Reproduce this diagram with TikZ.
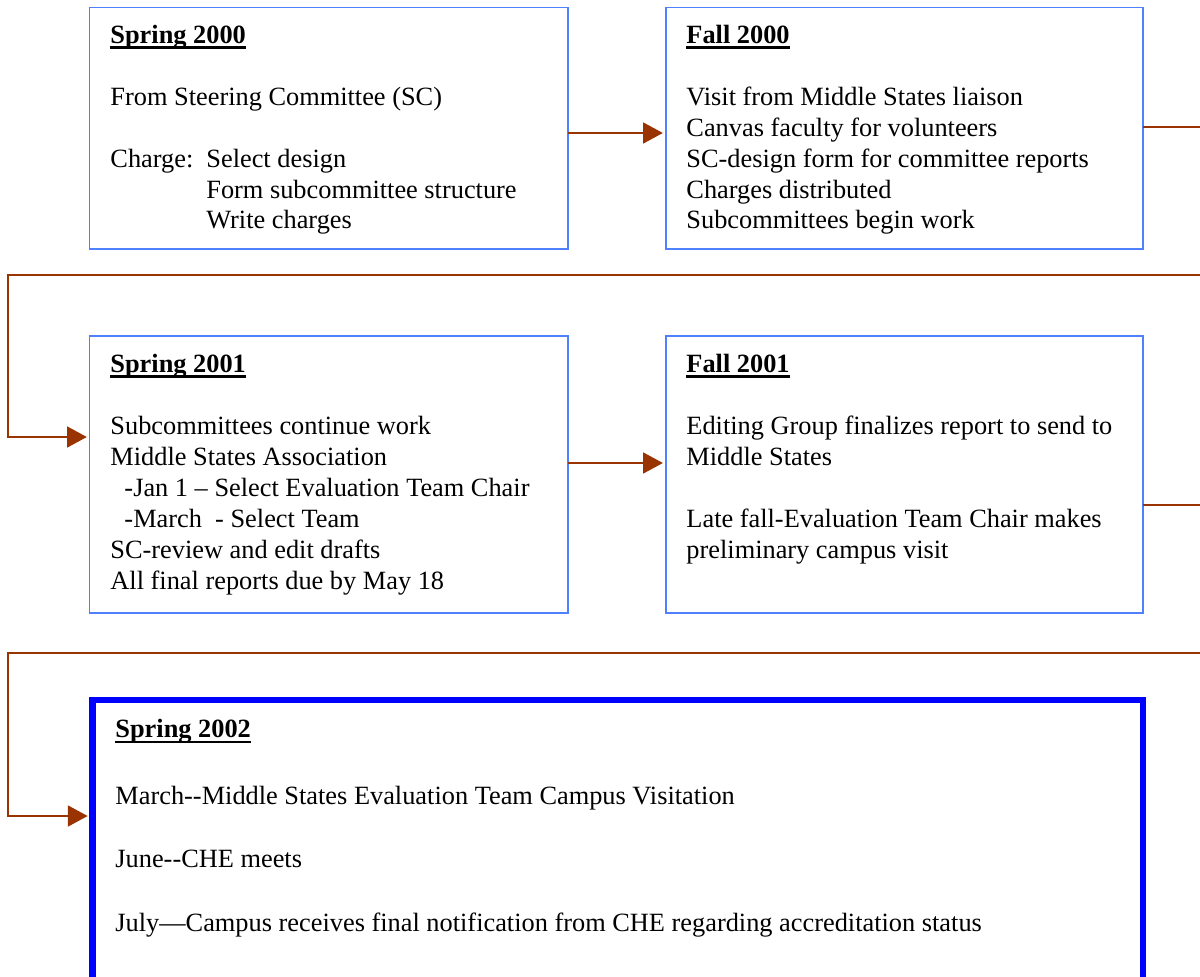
\documentclass[tikz,border=0pt]{standalone}
\usepackage{fontspec}
\setmainfont{Liberation Serif}
\usetikzlibrary{arrows.meta}

\definecolor{boxblue}{HTML}{4F81FF}
\definecolor{linkbrown}{HTML}{993300}
\newcommand\px{0.016cm}
\newcommand\heading[1]{\setbox0\hbox{\bfseries #1}\rlap{\rule[-2.5pt]{\wd0}{1pt}}\box0}
\newcommand\gap{\\[14.11pt]}

\tikzset{
  term/.style={draw=boxblue, line width=0.9pt, anchor=north west, inner sep=0pt, outer sep=0pt},
  final/.style={draw=blue, line width=2.8pt, anchor=north west, inner sep=0pt, outer sep=0pt},
  % texts are placed at the baseline of their last line
  txt/.style={anchor=base west, inner sep=0pt, align=left,
    font=\fontsize{12pt}{14.11pt}\selectfont},
  link/.style={draw=linkbrown, line width=0.9pt},
  flow/.style={link, -{Triangle[length=9pt,width=9.5pt]}, shorten >=1.2pt}
}

\begin{document}
\begin{tikzpicture}[x=\px, y=-\px]
  \useasboundingbox (0,0) rectangle (1200,976);
  % the five terms
  \node[term, minimum width=478*\px, minimum height=241.5*\px] (sp00) at (89.5,7.5) {};
  \node[term, minimum width=477*\px, minimum height=241.5*\px] (fa00) at (665.5,7.5) {};
  \node[term, minimum width=478*\px, minimum height=277*\px] (sp01) at (89.5,336) {};
  \node[term, minimum width=477*\px, minimum height=277*\px] (fa01) at (665.5,336) {};
  \node[final, minimum width=1050.5*\px, minimum height=290*\px] (sp02) at (92.5,700) {};

  \node[txt] (sp00t) at (110,229) {\heading{Spring 2000}\gap
    From Steering Committee (SC)\gap
    \makebox[43.7pt][l]{Charge:}Select design\\
    \hspace*{43.7pt}Form subcommittee structure\\
    \hspace*{43.7pt}Write charges};
  \node[txt] (fa00t) at (686,229) {\heading{Fall 2000}\gap
    Visit from Middle States liaison\\
    Canvas faculty for volunteers\\
    SC-design form for committee reports\\
    Charges distributed\\
    Subcommittees begin work};
  \node[txt] (sp01t) at (110,589) {\heading{Spring 2001}\gap
    Subcommittees continue work\\
    Middle States Association\\
    \hspace*{6.4pt}-Jan 1 -- Select Evaluation Team Chair\\
    \hspace*{6.4pt}-March\ \ - Select Team\\
    SC-review and edit drafts\\
    All final reports due by May 18};
  \node[txt] (fa01t) at (686,558) {\heading{Fall 2001}\gap
    Editing Group finalizes report to send to\\
    Middle States\gap
    Late fall-Evaluation Team Chair makes\\
    preliminary campus visit};
  \node[txt] (sp02t) at (115,931) {\heading{Spring 2002}\\[16.4pt]
    March-{}-Middle States Evaluation Team Campus Visitation\\[14.6pt]
    June-{}-CHE meets\\[14.6pt]
    July---Campus receives final notification from CHE regarding accreditation status};

  % connectors
  \draw[flow] (sp00.east |- 0,133) -- (fa00.west |- 0,133);
  \draw[flow] (fa00.east |- 0,127) -- (1215,127) -- (1215,275) -- (8,275)
    -- (8,437) -- (sp01.west |- 0,437);
  \draw[flow] (sp01.east |- 0,463) -- (fa01.west |- 0,463);
  \draw[flow, shorten >=2.2pt] (fa01.east |- 0,505) -- (1215,505) -- (1215,653) -- (8,653)
    -- (8,816) -- (sp02.west |- 0,816);
\end{tikzpicture}
\end{document}
